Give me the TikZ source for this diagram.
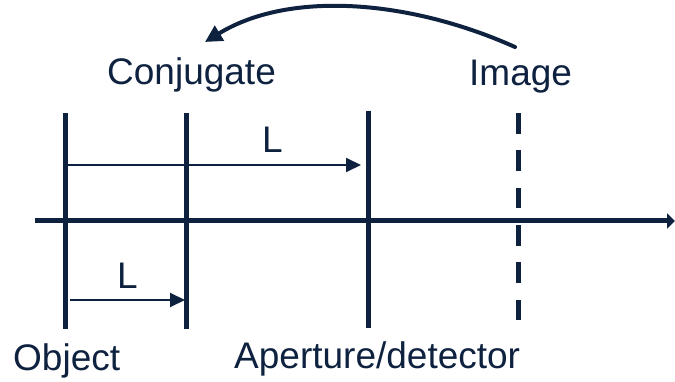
\documentclass[tikz,border=0pt]{standalone}
\usepackage{fontspec}
\setmainfont{Liberation Sans}
\usetikzlibrary{arrows.meta}
\definecolor{navy}{RGB}{14,34,64}
\begin{document}
\begin{tikzpicture}[x=1pt,y=-1pt,
  lbl/.style={anchor=base west,inner sep=0pt,text=navy,font=\fontsize{37}{40}\selectfont},
  plane/.style={draw=navy,line width=5pt},
  thinarrow/.style={draw=navy,line width=2pt,-{Triangle[length=15pt,width=14pt]}},
  axisline/.style={draw=navy,line width=5pt,-{Triangle[length=8pt,width=15pt]}},
  bigarrow/.style={draw=navy,line width=4pt,line cap=round,-{Triangle[length=17pt,width=17pt]}}]
\useasboundingbox (0,0) rectangle (675,382);
% labels
\node[lbl] (conj) at (107,85) {Conjugate};
\node[lbl] (img) at (469,86) {Image};
\node[lbl] (obj) at (13,370) {Object};
\node[lbl] (ap) at (234,368) {Aperture/detector};
\node[lbl] (L1) at (262,153) {L};
\node[lbl] (L2) at (117,288) {L};
% coordinates
\coordinate (ax0) at (35,221);
\coordinate (ax1) at (675,221);
\coordinate (o1) at (65,113); \coordinate (o2) at (65,329);
\coordinate (c1) at (186,113); \coordinate (c2) at (186,329);
\coordinate (a1) at (368,111); \coordinate (a2) at (368,328);
\coordinate (i1) at (518,113); \coordinate (i2) at (518,321);
\coordinate (u0) at (67,165); \coordinate (u1) at (361,165);
\coordinate (d0) at (70,300); \coordinate (d1) at (185,300);
\coordinate (cs) at (515,47); \coordinate (ce) at (205,42);
% axis and planes
\draw[axisline] (ax0) -- (ax1);
\draw[plane] (o1) -- (o2);
\draw[plane] (c1) -- (c2);
\draw[plane] (a1) -- (a2);
\draw[plane,dash pattern=on 20.7pt off 16.6pt] (i1) -- (i2);
% distance arrows
\draw[thinarrow] (u0) -- (u1);
\draw[thinarrow] (d0) -- (d1);
% curved arrow
\draw[bigarrow] (cs) .. controls (410,0) and (290,-10) .. (ce);
\end{tikzpicture}
\end{document}
